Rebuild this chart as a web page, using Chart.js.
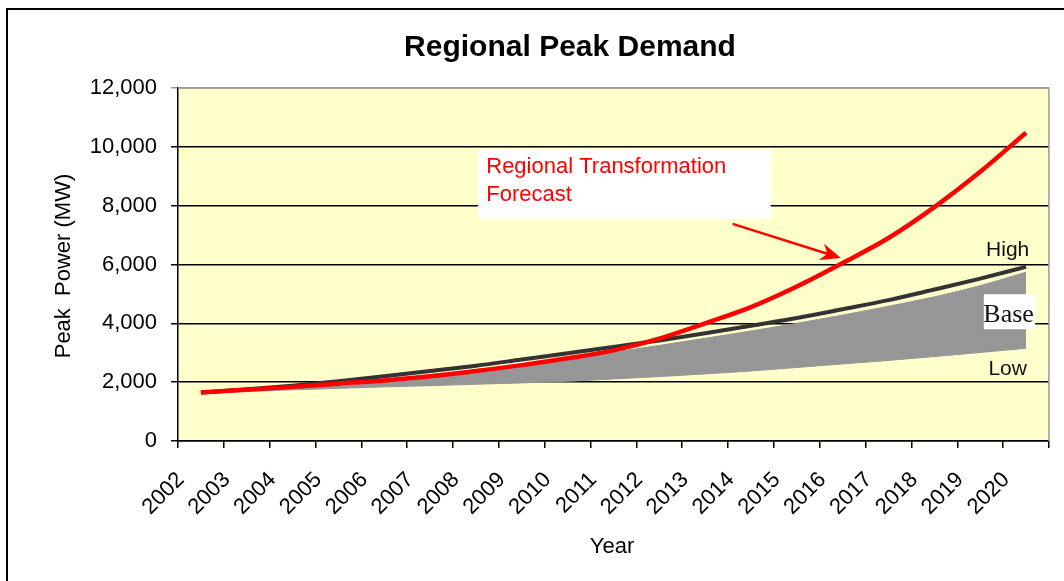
<!DOCTYPE html>
<html>
<head>
<meta charset="utf-8">
<title>Regional Peak Demand</title>
<script src="https://cdn.jsdelivr.net/npm/chart.js@4.4.1/dist/chart.umd.min.js"></script>
<style>
  body { margin: 0; background: #fff; }
</style>
</head>
<body>
<canvas id="mycanvas" width="1064" height="581"></canvas>
<script>
// values (MW)
var years = ['2002','2003','2004','2005','2006','2007','2008','2009','2010','2011',
             '2012','2013','2014','2015','2016','2017','2018','2019','2020'];
var transformation = [1650,1740,1840,1950,2060,2200,2380,2580,2810,3080,
                      3480,4000,4550,5250,6050,6900,7950,9150,10480];
var high = [1650,1760,1880,2030,2200,2380,2560,2770,2980,3200,
            3420,3660,3920,4180,4480,4790,5150,5520,5920];
var baseTop = [1650,1720,1790,1870,1990,2150,2340,2560,2790,3020,
               3250,3490,3740,4000,4280,4580,4900,5280,5740];
var low = [1650,1690,1740,1790,1840,1880,1930,1975,2030,2110,
           2190,2280,2380,2500,2620,2740,2870,3010,3150];

var FONT = "'Liberation Sans', Arial, sans-serif";

var decor = {
  id: 'decor',
  beforeDraw: function(chart) {
    var c = chart.ctx, a = chart.chartArea;
    c.save();
    c.fillStyle = '#fff';
    c.fillRect(0, 0, chart.width, chart.height);
    c.fillStyle = '#FFFFCC';
    c.fillRect(a.left, a.top, a.right - a.left, a.bottom - a.top);
    c.restore();
  },
  afterDraw: function(chart) {
    var c = chart.ctx, a = chart.chartArea;
    var xs = chart.scales.x, ys = chart.scales.y;
    var px = function(i) { return xs.getPixelForValue(i); };
    var py = function(v) { return ys.getPixelForValue(v); };
    c.save();

    // plot frame (right side is grey)
    c.strokeStyle = '#9a9a9a';
    c.lineWidth = 1.5;
    c.beginPath();
    c.moveTo(a.left, a.top);
    c.lineTo(a.right, a.top);
    c.lineTo(a.right, a.bottom);
    c.stroke();

    // outer frame
    c.strokeStyle = '#000';
    c.lineWidth = 2;
    c.beginPath();
    c.moveTo(7, chart.height);
    c.lineTo(7, 9);
    c.lineTo(chart.width, 9);
    c.stroke();

    // title
    c.fillStyle = '#000';
    c.textAlign = 'center';
    c.textBaseline = 'alphabetic';
    c.font = 'bold 30px ' + FONT;
    c.fillText('Regional Peak Demand', 570, 56);

    // axis titles
    c.font = '22px ' + FONT;
    c.fillText('Year', 612, 553);
    c.save();
    c.translate(70, 266);
    c.rotate(-Math.PI / 2);
    c.fillText('Peak  Power (MW)', 0, 0);
    c.restore();

    // forecast label box
    var bx = px(6.05), by = py(9930), bw = px(12.43) - bx, bh = py(7550) - by;
    c.fillStyle = '#fff';
    c.fillRect(bx, by, bw, bh);
    c.fillStyle = '#ff0000';
    c.textAlign = 'left';
    c.font = '22px ' + FONT;
    c.fillText('Regional Transformation', bx + 8, by + 24);
    c.fillText('Forecast', bx + 8, by + 52);

    // arrow
    var x0 = px(11.6), y0 = py(7380), x1 = px(13.96), y1 = py(6220);
    var ang = Math.atan2(y1 - y0, x1 - x0);
    c.strokeStyle = '#ff0000';
    c.lineWidth = 2.5;
    c.beginPath();
    c.moveTo(x0, y0);
    c.lineTo(x1 - 10 * Math.cos(ang), y1 - 10 * Math.sin(ang));
    c.stroke();
    c.beginPath();
    c.moveTo(x1, y1);
    c.lineTo(x1 - 22 * Math.cos(ang - 0.4), y1 - 22 * Math.sin(ang - 0.4));
    c.lineTo(x1 - 14 * Math.cos(ang), y1 - 14 * Math.sin(ang));
    c.lineTo(x1 - 22 * Math.cos(ang + 0.4), y1 - 22 * Math.sin(ang + 0.4));
    c.closePath();
    c.fillStyle = '#ff0000';
    c.fill();

    // scenario labels
    c.fillStyle = '#111';
    c.textAlign = 'center';
    c.font = '21px ' + FONT;
    c.fillText('High', px(17.6), py(6280));
    c.fillText('Low', px(17.6), py(2240));
    var lx = px(17.08), ly = py(4990);
    c.fillStyle = '#fff';
    c.fillRect(lx, ly, px(18.2) - lx, py(3800) - ly);
    c.fillStyle = '#111';
    c.font = '26px "Liberation Serif", "Times New Roman", serif';
    c.fillText('Base', px(17.62), py(4040));

    c.restore();
  }
};

var ctx = document.getElementById('mycanvas');

var chartdata = {
  labels: years,
  datasets: [
    {
      label: 'Regional Transformation Forecast',
      data: transformation,
      borderColor: '#ff0000',
      borderWidth: 4.5,
      pointRadius: 0,
      fill: false,
      cubicInterpolationMode: 'monotone'
    },
    {
      label: 'High',
      data: high,
      borderColor: '#333333',
      borderWidth: 4,
      pointRadius: 0,
      fill: false,
      cubicInterpolationMode: 'monotone'
    },
    {
      label: 'Base',
      data: baseTop,
      borderColor: '#969696',
      borderWidth: 1,
      backgroundColor: '#969696',
      pointRadius: 0,
      fill: '+1',
      cubicInterpolationMode: 'monotone'
    },
    {
      label: 'Low',
      data: low,
      borderColor: '#969696',
      borderWidth: 1,
      pointRadius: 0,
      fill: false,
      cubicInterpolationMode: 'monotone'
    }
  ]
};

var LineGraph = new Chart(ctx, {
  type: 'line',
  data: chartdata,
  plugins: [decor],
  options: {
    responsive: false,
    animation: false,
    layout: { padding: { top: 88, right: 12, left: 0, bottom: 0 } },
    plugins: {
      legend: { display: false },
      tooltip: { enabled: false },
      title: { display: false }
    },
    scales: {
      x: {
        offset: true,
        afterFit: function(scale) { scale.height = 140; },
        grid: {
          offset: true,
          drawOnChartArea: false,
          drawTicks: true,
          tickLength: 7,
          color: '#000',
          lineWidth: 1.5
        },
        border: { display: true, color: '#000', width: 1.5 },
        ticks: {
          autoSkip: false,
          minRotation: 45,
          maxRotation: 45,
          labelOffset: -20,
          padding: 19,
          color: '#000',
          font: { family: FONT, size: 22 }
        }
      },
      y: {
        min: 0,
        max: 12000,
        afterFit: function(scale) { scale.width = 178; },
        grid: {
          color: function(c) { return c.tick && c.tick.value === 12000 ? '#9a9a9a' : '#000'; },
          lineWidth: 1.5,
          tickLength: 7
        },
        border: { display: true, color: '#000', width: 1.5 },
        ticks: {
          stepSize: 2000,
          padding: 14,
          color: '#000',
          font: { family: FONT, size: 22 },
          callback: function(v) { return v.toLocaleString('en-US'); }
        }
      }
    }
  }
});
</script>
</body>
</html>
